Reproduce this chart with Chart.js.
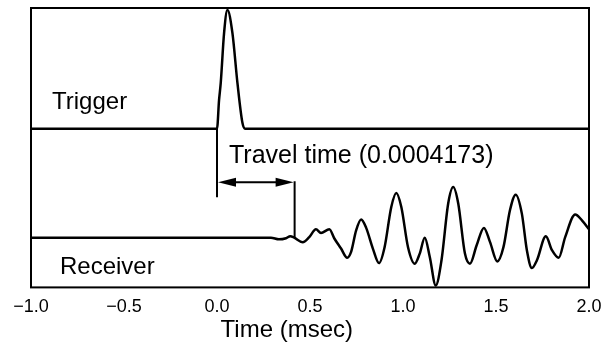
<!DOCTYPE html>
<html>
<head>
<meta charset="utf-8">
<title>Travel time</title>
<script src="https://cdn.jsdelivr.net/npm/chart.js@4.4.1/dist/chart.umd.min.js"></script>
<style>
  html, body { margin: 0; padding: 0; background: #fff; }
  #wrap { width: 605px; height: 344px; }
</style>
</head>
<body>
<div id="wrap"><canvas id="wave" width="605" height="344"></canvas></div>
<script>
// trigger pulse (time in msec, trace level in plot units)
const triggerTime = [-1.0, 0.0, 0.011, 0.020, 0.038, 0.056, 0.083, 0.110, 0.137, 0.151, 2.0];
const triggerLevel = [56.8, 56.8, 67.0, 73.1, 91.0, 99.3, 91.0, 73.1, 58.8, 56.8, 56.8];

// receiver trace
const receiverTime = [-1.0, 0.290, 0.333, 0.371, 0.394, 0.415, 0.461, 0.496, 0.532, 0.559,
  0.604, 0.631, 0.667, 0.700, 0.721, 0.748, 0.775, 0.802, 0.838, 0.871,
  0.901, 0.937, 0.964, 0.991, 1.027, 1.063, 1.090, 1.117, 1.144, 1.176,
  1.207, 1.243, 1.270, 1.297, 1.333, 1.360, 1.396, 1.435, 1.468, 1.507,
  1.540, 1.575, 1.606, 1.639, 1.666, 1.693, 1.720, 1.768, 1.801, 1.837,
  1.872, 1.926, 1.962, 2.0];
const receiverLevel = [17.8, 17.8, 17.2, 17.6, 18.3, 17.8, 16.2, 18.0, 20.8, 19.5,
  20.8, 17.5, 13.9, 10.6, 12.7, 20.4, 24.3, 21.3, 13.9, 8.7,
  14.4, 28.8, 33.8, 28.8, 14.4, 8.5, 12.1, 17.8, 10.9, 0.7,
  9.7, 30.0, 35.9, 30.0, 12.1, 8.5, 15.1, 21.3, 16.2, 9.3,
  14.4, 27.6, 33.2, 26.4, 13.3, 6.9, 9.7, 18.3, 13.3, 10.6,
  18.0, 26.1, 24.0, 20.8];

const travelTime = 0.4173; // msec
const xTicks = [-1.0, -0.5, 0.0, 0.5, 1.0, 1.5, 2.0];

const FONT = '"Liberation Sans", Arial, Helvetica, sans-serif';

function toPoints(xs, ys) {
  return xs.map((x, i) => ({ x: x, y: ys[i] }));
}

// frame, trace names, travel-time arrow and axis title
const annotate = {
  id: 'annotate',
  afterDatasetsDraw(chart) {
    const { ctx, chartArea: a } = chart;
    const xs = chart.scales.x, ys = chart.scales.y;
    ctx.save();
    ctx.strokeStyle = '#000';
    ctx.fillStyle = '#000';

    ctx.lineWidth = 2;
    ctx.strokeRect(a.left, a.top, a.right - a.left, a.bottom - a.top);

    const x0 = xs.getPixelForValue(0.0);
    const x1 = xs.getPixelForValue(travelTime);
    const yArrow = ys.getPixelForValue(37.6);

    ctx.lineWidth = 2;
    ctx.beginPath();
    ctx.moveTo(x0, ys.getPixelForValue(56.8));
    ctx.lineTo(x0, ys.getPixelForValue(32.3));
    ctx.moveTo(x1, ys.getPixelForValue(38.0));
    ctx.lineTo(x1, ys.getPixelForValue(17.8));
    ctx.moveTo(x0 + 10, yArrow);
    ctx.lineTo(x1 - 10, yArrow);
    ctx.stroke();

    const head = (tip, dir) => {
      ctx.beginPath();
      ctx.moveTo(tip, yArrow);
      ctx.lineTo(tip + dir * 18, yArrow - 4.5);
      ctx.lineTo(tip + dir * 18, yArrow + 4.5);
      ctx.closePath();
      ctx.fill();
    };
    head(x0 + 1, 1);
    head(x1 - 1, -1);

    ctx.textBaseline = 'alphabetic';
    ctx.textAlign = 'left';
    ctx.font = '24px ' + FONT;
    ctx.fillText('Trigger', 52, 109);
    ctx.fillText('Receiver', 60, 274);
    ctx.font = '25px ' + FONT;
    ctx.fillText('Travel time (0.0004173)', 229, 163);

    ctx.textAlign = 'center';
    ctx.font = '24px ' + FONT;
    ctx.fillText('Time (msec)', xs.getPixelForValue(0.375), 337);
    ctx.restore();
  }
};

new Chart(document.getElementById('wave'), {
  type: 'line',
  data: {
    datasets: [
      {
        label: 'Trigger',
        data: toPoints(triggerTime, triggerLevel),
        borderColor: '#000',
        borderWidth: 2.5,
        pointRadius: 0,
        cubicInterpolationMode: 'monotone'
      },
      {
        label: 'Receiver',
        data: toPoints(receiverTime, receiverLevel),
        borderColor: '#000',
        borderWidth: 2.5,
        pointRadius: 0,
        cubicInterpolationMode: 'monotone'
      }
    ]
  },
  options: {
    responsive: false,
    animation: false,
    devicePixelRatio: 1,
    layout: { padding: { left: 31, right: 16, top: 8, bottom: 25 } },
    plugins: {
      legend: { display: false },
      tooltip: { enabled: false }
    },
    scales: {
      x: {
        type: 'linear',
        min: -1,
        max: 2,
        afterBuildTicks(scale) {
          scale.ticks = xTicks.map(v => ({ value: v }));
        },
        grid: { display: false },
        border: { display: false },
        ticks: {
          padding: 1,
          color: '#000',
          font: { family: FONT, size: 18 },
          maxRotation: 0,
          callback: v => (v < 0 ? '\u2212' : '') + Math.abs(v).toFixed(1)
        }
      },
      y: {
        display: false,
        min: 0,
        max: 100
      }
    }
  },
  plugins: [annotate]
});
</script>
</body>
</html>
